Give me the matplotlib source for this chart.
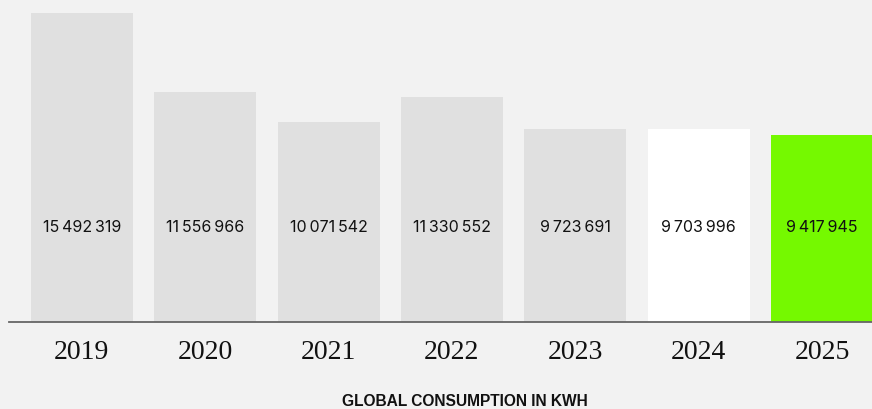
import matplotlib
matplotlib.use("Agg")
import matplotlib.pyplot as plt

years = ["2019", "2020", "2021", "2022", "2023", "2024", "2025"]
consumption = [15492319, 11556966, 10071542, 11330552, 9723691, 9703996, 9417945]
bar_colors = ["#e0e0e0", "#e0e0e0", "#e0e0e0", "#e0e0e0", "#e0e0e0", "#ffffff", "#75f900"]
title = "GLOBAL CONSUMPTION IN KWH"

W, H = 872, 409
fig = plt.figure(figsize=(W / 100, H / 100), dpi=100)
fig.patch.set_facecolor("#f2f2f2")

# axes placed in pixel terms: baseline at y=321.8, tallest bar reaches y=13
base_px, top_px = 321.8, 13.0
ax = fig.add_axes([9 / W, 1 - base_px / H, 1 - 9 / W, base_px / H])
ax.set_facecolor("#f2f2f2")

x = list(range(len(years)))
ax.bar(x, consumption, width=0.827, color=bar_colors, zorder=2)

# value scale: the bars rise from just below the drawn baseline
px_per_unit = 2.0085e-5
ymin = max(consumption) - (base_px - top_px) / px_per_unit
ymax = ymin + base_px / px_per_unit
ax.set_ylim(ymin, ymax)
ax.set_xlim(-0.59, 6.405)

# value labels sit at a common height inside the bars
label_y = ymin + (base_px - 228) / px_per_unit
for xi, v in zip(x, consumption):
    s = f"{v:,}".replace(",", "\u2009")
    ax.text(xi, label_y, s, ha="center", va="center", fontsize=11.5,
            family=["Inter", "DejaVu Sans"], color="#111111", zorder=3)

for side in ["top", "right", "left"]:
    ax.spines[side].set_visible(False)
ax.spines["bottom"].set_color("#666666")
ax.spines["bottom"].set_linewidth(1.3)
ax.spines["bottom"].set_zorder(4)
ax.set_yticks([])
ax.set_xticks(x)
ax.set_xticklabels(years, family="Liberation Serif", fontsize=20, color="#111111")
ax.tick_params(axis="x", length=0, pad=13)

fig.text(465 / W, 1 - 402 / H, title, ha="center", va="center", fontsize=11.2,
         fontweight="bold", family="Liberation Sans", color="#111111")

fig.savefig("out.png", dpi=100, facecolor=fig.get_facecolor())
